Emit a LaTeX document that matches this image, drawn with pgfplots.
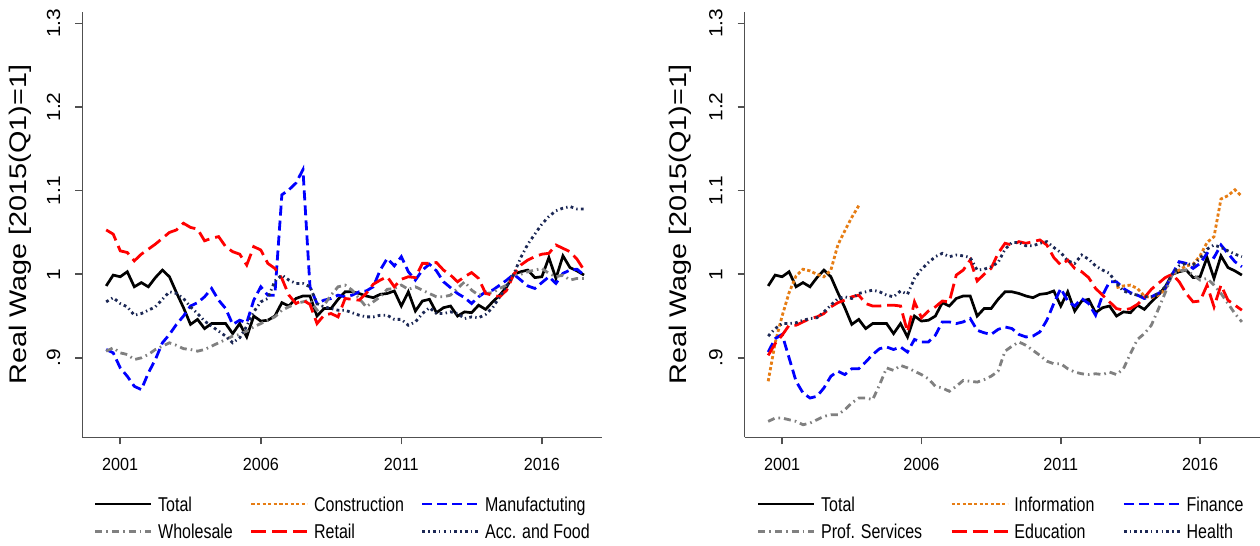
\documentclass[border=0pt]{standalone}
\usepackage{fontspec}
\setmainfont{Liberation Sans}
\newfontfamily\fLeg[FakeStretch=0.8]{Liberation Sans}
\newfontfamily\fYlab[FakeStretch=1.2]{Liberation Sans}
\newfontfamily\fYtick[FakeStretch=1.1]{Liberation Sans}
\newfontfamily\fYear[FakeStretch=0.92]{Liberation Sans}
\usepackage{pgfplots}
\usepackage{pgfplotstable}
\pgfplotsset{compat=1.18}

\definecolor{sorange}{RGB}{230,125,20}
\definecolor{snavy}{RGB}{28,40,85}
\definecolor{sgray}{RGB}{128,128,128}
\definecolor{axgray}{RGB}{80,80,80}

\pgfplotstableread{
t tot man who ret acc inf fin pro edu hea
2000.50 .986 .910 .908 1.053 .967 .872 .907 .824 .903 .926
2000.75 .999 .906 .912 1.048 .972 .918 .923 .828 .917 .935
2001.00 .997 .888 .906 1.028 .965 .950 .928 .828 .927 .941
2001.25 1.003 .878 .904 1.026 .961 .978 .900 .826 .939 .941
2001.50 .985 .866 .898 1.016 .951 .998 .872 .824 .939 .942
2001.75 .990 .862 .900 1.024 .953 1.006 .858 .820 .943 .945
2002.00 .985 .882 .904 1.030 .957 1.004 .852 .822 .947 .947
2002.25 .996 .898 .910 1.036 .961 1.000 .854 .826 .949 .948
2002.50 1.005 .918 .914 1.043 .970 .997 .864 .830 .953 .955
2002.75 .997 .928 .918 1.050 .979 1.005 .878 .832 .961 .963
2003.00 .978 .940 .915 1.053 .977 1.035 .884 .832 .966 .971
2003.25 .960 .950 .911 1.061 .971 1.052 .880 .838 .969 .973
2003.50 .940 .962 .910 1.056 .961 1.068 .887 .846 .973 .971
2003.75 .946 .966 .908 1.054 .953 1.082 .887 .852 .975 .977
2004.00 .935 .973 .910 1.040 .944 nan .895 .852 .965 .979
2004.25 .941 .983 .914 1.043 .938 nan .904 .850 .962 .981
2004.50 .941 .969 .918 1.045 .932 nan .911 .868 .962 .979
2004.75 .941 .959 .922 1.033 .926 nan .913 .888 .963 .975
2005.00 .929 .940 .926 1.027 .918 nan .910 .885 .963 .973
2005.25 .941 .945 .928 1.024 .924 nan .913 .891 .962 .980
2005.50 .925 .942 .932 1.011 .938 nan .907 .888 .931 .976
2005.75 .950 .969 .937 1.033 .955 nan .922 .884 .967 .995
2006.00 .944 .985 .941 1.029 .967 nan .919 .880 .948 1.006
2006.25 .945 .975 .945 1.013 .971 nan .919 .875 .956 1.014
2006.50 .950 .975 .949 1.007 .992 nan .927 .866 .961 1.021
2006.75 .966 1.095 .957 .995 .999 nan .943 .864 .968 1.025
2007.00 .962 1.101 .961 .975 .993 nan .943 .860 .967 1.021
2007.25 .971 1.109 .965 .965 .989 nan .941 .866 .999 1.023
2007.50 .974 1.125 .967 .969 .989 nan .943 .873 1.005 1.022
2007.75 .974 .985 .969 .964 .985 nan .947 .872 1.017 1.020
2008.00 .950 .965 .957 .941 .965 nan .933 .871 .992 1.005
2008.25 .959 .969 .963 .951 .961 nan .930 .874 1.000 1.006
2008.50 .959 .971 .975 .953 .959 nan .928 .878 1.007 1.009
2008.75 .970 .975 .985 .949 .957 nan .934 .884 1.025 1.014
2009.00 .979 .973 .987 .971 .957 nan .937 .908 1.037 1.030
2009.25 .979 .975 .981 .970 .954 nan .935 .914 1.035 1.038
2009.50 .977 .979 .971 .969 .951 nan .928 .919 1.039 1.038
2009.75 .974 .980 .961 .977 .949 nan .925 .915 1.037 1.034
2010.00 .972 .985 .967 .988 .949 nan .926 .909 1.039 1.034
2010.25 .976 1.005 .973 .993 .951 nan .931 .903 1.041 1.037
2010.50 .977 1.019 .982 .997 .951 nan .945 .896 1.035 1.039
2010.75 .980 1.010 .983 .985 .946 nan .965 .893 1.020 1.032
2011.00 .962 1.021 .987 .994 .946 nan .983 .893 1.011 1.026
2011.25 .979 1.003 .982 .997 .939 nan .968 .887 1.017 1.016
2011.50 .956 .993 .985 .996 .943 nan .962 .883 1.007 1.013
2011.75 .968 1.005 .981 1.013 .953 nan .971 .881 1.003 1.023
2012.00 .970 1.012 .977 1.013 .960 nan .965 .880 .996 1.018
2012.25 .954 1.004 .973 1.014 .953 nan .951 .881 .983 1.010
2012.50 .960 .991 .973 1.005 .953 nan .975 .880 .975 1.005
2012.75 .962 .984 .975 .999 .955 nan .991 .883 .967 1.001
2013.00 .950 .977 .983 .991 .953 .984 .991 .880 .959 .989
2013.25 .955 .972 .991 .997 .947 .986 .983 .887 .957 .980
2013.50 .954 .965 .981 1.002 .949 .987 .978 .905 .959 .977
2013.75 .963 .973 .975 .995 .948 .983 .975 .922 .964 .975
2014.00 .958 .979 .977 .977 .952 .974 .971 .929 .972 .973
2014.25 .967 .981 .978 .975 .960 .972 .973 .939 .982 .973
2014.50 .975 .987 .983 .973 .973 .975 .977 .958 .989 .977
2014.75 .985 .993 .987 .981 .986 .982 .983 .978 .996 .985
2015.00 1.000 1.000 1.000 1.000 1.000 1.000 1.000 1.000 1.000 1.000
2015.25 1.003 .993 1.000 1.011 1.020 1.005 1.015 1.004 .991 1.010
2015.50 1.005 .986 1.003 1.017 1.036 1.010 1.013 1.005 .977 1.013
2015.75 .996 .983 1.005 1.021 1.048 1.012 1.007 .999 .967 1.011
2016.00 .997 .990 1.007 1.024 1.060 1.022 1.013 .993 .968 1.019
2016.25 1.020 .997 1.001 1.025 1.069 1.038 1.025 .995 .987 1.030
2016.50 .995 .989 .997 1.035 1.076 1.045 1.020 .987 .961 1.035
2016.75 1.022 1.001 .999 1.031 1.079 1.090 1.035 .977 .987 1.032
2017.00 1.008 1.005 .993 1.027 1.081 1.094 1.025 .965 .969 1.028
2017.25 1.004 1.006 .995 1.018 1.078 1.101 1.015 .953 .963 1.024
2017.50 .999 .999 .995 1.005 1.078 1.093 1.009 .943 .957 1.021
}\data

\pgfplotsset{
  stot/.style={black, line width=1.35pt, solid},
  scon/.style={sorange, line width=1.4pt, dash pattern=on 1.6pt off 1.2pt},
  sman/.style={blue, line width=1.4pt, dash pattern=on 5pt off 2.5pt},
  swho/.style={sgray, line width=1.4pt, dash pattern=on 3.5pt off 2pt on 0.8pt off 2pt},
  sret/.style={red, line width=1.4pt, dash pattern=on 7.5pt off 3pt},
  sacc/.style={snavy, line width=1.4pt, dash pattern=on 1.4pt off 1.6pt on 0.7pt off 1.6pt},
  stata/.style={
    scale only axis,
    height=212.8pt,
    xmin=1999.65, xmax=2018.15,
    ymin=0.805, ymax=1.314,
    axis x line*=bottom, axis y line*=left,
    axis line style={axgray, line width=0.75pt},
    tick style={axgray, line width=0.75pt},
    tick align=outside,
    major tick length=3.5pt,
    xtick={2001,2006,2011,2016},
    xticklabels={2001,2006,2011,2016},
    ytick={0.9,1,1.1,1.2,1.3},
    yticklabels={.9,1,1.1,1.2,1.3},
    xticklabel style={font=\fYear\fontsize{8.8}{9}\selectfont, text=black, yshift=-3.5pt},
    yticklabel style={font=\fYtick\fontsize{9.5}{10}\selectfont, xshift=-4pt, rotate=90, anchor=south, text=black},
    ylabel={Real Wage [2015(Q1)=1]},
    ylabel style={font=\fYlab\fontsize{12}{13}\selectfont, at={(axis description cs:-0.12,0.5)}, anchor=center},
    legend columns=3,
    legend cell align=left,
    legend image code/.code={\draw[##1] (0pt,0pt) -- (28pt,0pt);},
    clip=false,
    unbounded coords=jump,
  },
}

\begin{document}
\begin{tikzpicture}
\useasboundingbox (0,0) rectangle (630pt,273pt);
% left panel
\begin{axis}[stata,
  at={(41.15pt,54.35pt)}, anchor=south west, width=260pt,
  legend style={draw=none, fill=none, inner sep=0pt, outer sep=0pt,
    at={(axis description cs:0.0225,-0.138)}, anchor=north west,
    font=\fLeg\fontsize{10}{11}\selectfont,
    nodes={inner ysep=0pt, text height=7.5pt, text depth=0.5pt},
    row sep=5.85pt,
    /tikz/every odd column/.append style={column sep=0.7pt},
    /tikz/every even column/.append style={column sep=6.5pt}},
]
\addplot[stot] table[x=t, y=tot] {\data}; \addlegendentry{Total}
\addlegendimage{scon} \addlegendentry{Construction}
\addplot[sman] table[x=t, y=man] {\data}; \addlegendentry{Manufactuting}
\addplot[swho] table[x=t, y=who] {\data}; \addlegendentry{Wholesale}
\addplot[sret] table[x=t, y=ret] {\data}; \addlegendentry{Retail}
\addplot[sacc] table[x=t, y=acc] {\data}; \addlegendentry{Acc. and Food}
\end{axis}
% right panel
\begin{axis}[stata,
  at={(372.25pt,54.35pt)}, anchor=south west, width=257.75pt,
  ylabel style={at={(axis description cs:-0.125,0.5)}},
  legend style={draw=none, fill=none, inner sep=0pt, outer sep=0pt,
    at={(axis description cs:0.0242,-0.138)}, anchor=north west,
    font=\fLeg\fontsize{10}{11}\selectfont,
    nodes={inner ysep=0pt, text height=7.5pt, text depth=0.5pt},
    row sep=5.85pt,
    /tikz/every odd column/.append style={column sep=0.7pt},
    /tikz/every even column/.append style={column sep=12pt}},
]
\addplot[stot] table[x=t, y=tot] {\data}; \addlegendentry{Total}
\addplot[scon] table[x=t, y=inf] {\data}; \addlegendentry{Information}
\addplot[sman] table[x=t, y=fin] {\data}; \addlegendentry{Finance}
\addplot[swho] table[x=t, y=pro] {\data}; \addlegendentry{Prof. Services}
\addplot[sret] table[x=t, y=edu] {\data}; \addlegendentry{Education}
\addplot[sacc] table[x=t, y=hea] {\data}; \addlegendentry{Health}
\end{axis}
\end{tikzpicture}
\end{document}
